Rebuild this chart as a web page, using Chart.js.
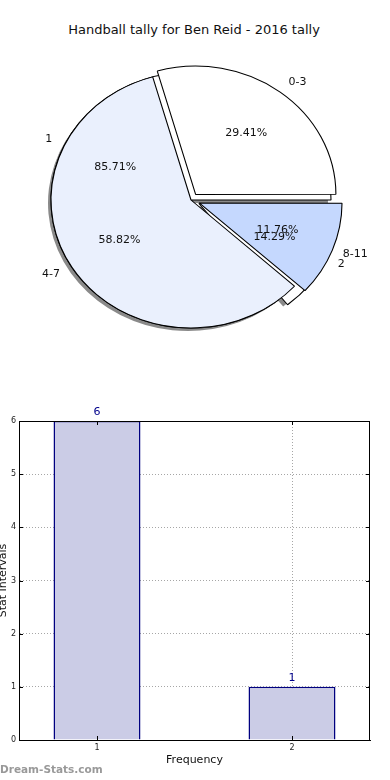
<!DOCTYPE html>
<html>
<head>
<meta charset="utf-8">
<script src="https://cdn.jsdelivr.net/npm/chart.js@4.4.0/dist/chart.umd.min.js"></script>
<style>
  html, body { margin: 0; padding: 0; background: #fff; }
  body { width: 390px; height: 780px; position: relative; overflow: hidden; font-family: 'DejaVu Sans', sans-serif; }
  .layer { position: absolute; left: 0; width: 390px; }
  #title { position: absolute; top: 22px; left: 0; width: 388px; text-align: center; font-size: 13px; color: #111; }
  #mark { position: absolute; left: 0; top: 763px; font-size: 10.5px; font-weight: bold; color: #999; }
</style>
</head>
<body>
<div id="title">Handball tally for Ben Reid - 2016 tally</div>
<div class="layer" style="top:0;height:360px"><canvas id="pieB"></canvas></div>
<div class="layer" style="top:0;height:360px"><canvas id="pieA"></canvas></div>
<div class="layer" style="top:400px;height:380px"><canvas id="bars"></canvas></div>
<div id="mark">Dream-Stats.com</div>

<script>
// data
var intervalLabels = ['0-3', '4-7', '8-11'];
var intervalValues = [5, 10, 2];
var countLabels = ['1', '2'];
var countValues = [6, 1];
var barValues = [6, 1];
var xTicks = [1, 2];
var yTicks = [0, 1, 2, 3, 4, 5, 6];

// styling
var intervalColors = ['#ffffff', '#eaf0fd', '#c5d8fe'];
var intervalOffsets = [28, 0, 32];
var countColors = ['#ffffff', '#ffffff'];
var countOffsets = [0, 32];

var R = 128;          // vertical radius of the pie
var SX = 140 / 128;   // pie is a bit wider than tall
var pieFont = '11px "DejaVu Sans"';

function rev(a) { return a.slice().reverse(); }

// matplotlib draws counter-clockwise from 3 o'clock, chart.js clockwise
function pieData(labels, values, colors, offsets) {
  return {
    labels: rev(labels),
    datasets: [{
      data: rev(values),
      backgroundColor: rev(colors),
      offset: rev(offsets),
      borderColor: '#000',
      borderWidth: 1
    }]
  };
}

function stretch(withShadow) {
  return {
    id: 'stretch',
    beforeDatasetsDraw: function (chart) {
      var ctx = chart.ctx;
      var arcs = chart.getDatasetMeta(0).data;
      var cx = arcs[0].x, cy = arcs[0].y;
      ctx.save();
      ctx.translate(cx, cy);
      ctx.scale(SX, 1);
      ctx.translate(-cx, -cy);
      if (withShadow) {
        ctx.fillStyle = 'rgba(60,60,60,0.6)';
        arcs.forEach(function (a) {
          var t = (a.options.offset || 0) / 4;
          var mid = (a.startAngle + a.endAngle) / 2;
          var ox = a.x + Math.cos(mid) * t - 3 / SX;
          var oy = a.y + Math.sin(mid) * t + 3;
          ctx.beginPath();
          ctx.moveTo(ox, oy);
          ctx.arc(ox, oy, a.outerRadius, a.startAngle, a.endAngle);
          ctx.closePath();
          ctx.fill();
        });
      }
    },
    afterDatasetsDraw: function (chart) {
      chart.ctx.restore();
    }
  };
}

function drawPieText(ctx, chart) {
  var meta = chart.getDatasetMeta(0);
  var values = chart.data.datasets[0].data;
  var total = values.reduce(function (s, v) { return s + v; }, 0);
  meta.data.forEach(function (a, i) {
    var mid = (a.startAngle + a.endAngle) / 2;
    var t = (a.options.offset || 0) / 4;
    var c = Math.cos(mid), s = Math.sin(mid);
    var r = a.outerRadius;
    ctx.textAlign = c > 0 ? 'left' : 'right';
    ctx.fillText(chart.data.labels[i], a.x + SX * c * (t + 1.1 * r), a.y + s * (t + 1.1 * r));
    ctx.textAlign = 'center';
    ctx.fillText((values[i] / total * 100).toFixed(2) + '%', a.x + SX * c * (t + 0.6 * r), a.y + s * (t + 0.6 * r));
  });
}

var pieOptions = {
  responsive: true,
  maintainAspectRatio: false,
  animation: false,
  events: [],
  rotation: 90,
  radius: R,
  layout: { padding: { left: 46, right: 54, top: 55, bottom: 15 } },
  plugins: { legend: { display: false }, tooltip: { enabled: false } }
};

var pieB = new Chart(document.getElementById('pieB'), {
  type: 'pie',
  data: pieData(countLabels, countValues, countColors, countOffsets),
  options: pieOptions,
  plugins: [stretch(true)]
});

var pieA = new Chart(document.getElementById('pieA'), {
  type: 'pie',
  data: pieData(intervalLabels, intervalValues, intervalColors, intervalOffsets),
  options: pieOptions,
  plugins: [stretch(false), {
    id: 'pieText',
    afterDraw: function (chart) {
      var ctx = chart.ctx;
      ctx.save();
      ctx.font = pieFont;
      ctx.fillStyle = '#111';
      ctx.textBaseline = 'middle';
      drawPieText(ctx, chart);
      drawPieText(ctx, pieB);
      ctx.restore();
    }
  }]
});

// bar chart
var frame = {
  id: 'frame',
  afterDraw: function (chart) {
    var ctx = chart.ctx, a = chart.chartArea;
    ctx.save();
    ctx.strokeStyle = '#000';
    ctx.lineWidth = 1;
    ctx.strokeRect(a.left + 0.5, a.top + 0.5, a.right - a.left - 1, a.bottom - a.top);
    ctx.beginPath();
    chart.scales.y.ticks.forEach(function (tk) {
      var y = Math.round(chart.scales.y.getPixelForValue(tk.value)) + 0.5;
      ctx.moveTo(a.left, y); ctx.lineTo(a.left + 4, y);
      ctx.moveTo(a.right - 4, y); ctx.lineTo(a.right, y);
    });
    chart.scales.x.ticks.forEach(function (tk) {
      var x = Math.round(chart.scales.x.getPixelForValue(tk.value)) + 0.5;
      ctx.moveTo(x, a.bottom); ctx.lineTo(x, a.bottom - 4);
      ctx.moveTo(x, a.top); ctx.lineTo(x, a.top + 4);
    });
    ctx.stroke();
    ctx.restore();
  }
};

var barText = {
  id: 'barText',
  afterDatasetsDraw: function (chart) {
    var ctx = chart.ctx;
    ctx.save();
    ctx.font = '11px "DejaVu Sans"';
    ctx.fillStyle = '#00008b';
    ctx.textAlign = 'center';
    ctx.textBaseline = 'middle';
    chart.getDatasetMeta(0).data.forEach(function (bar, i) {
      ctx.fillText(String(barValues[i]), bar.x, bar.y - 9);
    });
    ctx.restore();
  }
};

var gridStyle = { color: 'rgba(0,0,0,0.35)', drawTicks: false, offset: false };
var borderStyle = { color: '#000', width: 1, dash: [1, 2] };

new Chart(document.getElementById('bars'), {
  type: 'bar',
  data: {
    datasets: [{
      data: xTicks.map(function (x, i) { return { x: x, y: barValues[i] }; }),
      backgroundColor: '#cbcce6',
      borderColor: '#000080',
      borderWidth: 1.5,
      categoryPercentage: 1,
      barPercentage: 0.446
    }]
  },
  options: {
    responsive: true,
    maintainAspectRatio: false,
    animation: false,
    events: [],
    layout: { padding: { left: 0, right: 20, top: 21, bottom: 13 } },
    plugins: { legend: { display: false }, tooltip: { enabled: false } },
    scales: {
      x: {
        type: 'linear',
        min: 0.6,
        max: 2.4,
        offset: false,
        z: 1,
        afterBuildTicks: function (s) { s.ticks = xTicks.map(function (v) { return { value: v }; }); },
        afterFit: function (s) { s.height = 27; },
        grid: gridStyle,
        border: borderStyle,
        ticks: { padding: 3, font: { size: 8, family: 'DejaVu Sans' }, color: '#222' },
        title: { display: true, text: 'Frequency', font: { size: 11, family: 'DejaVu Sans' }, color: '#111', padding: 0 }
      },
      y: {
        min: 0,
        max: 6,
        z: 1,
        afterBuildTicks: function (s) { s.ticks = yTicks.map(function (v) { return { value: v }; }); },
        afterFit: function (s) { s.width = 19; },
        grid: gridStyle,
        border: borderStyle,
        ticks: { padding: 3, font: { size: 8, family: 'DejaVu Sans' }, color: '#222' },
        title: { display: true, text: 'Stat Intervals', font: { size: 11, family: 'DejaVu Sans' }, color: '#111', padding: { top: -3, bottom: 0 } }
      }
    }
  },
  plugins: [frame, barText]
});
</script>
</body>
</html>
